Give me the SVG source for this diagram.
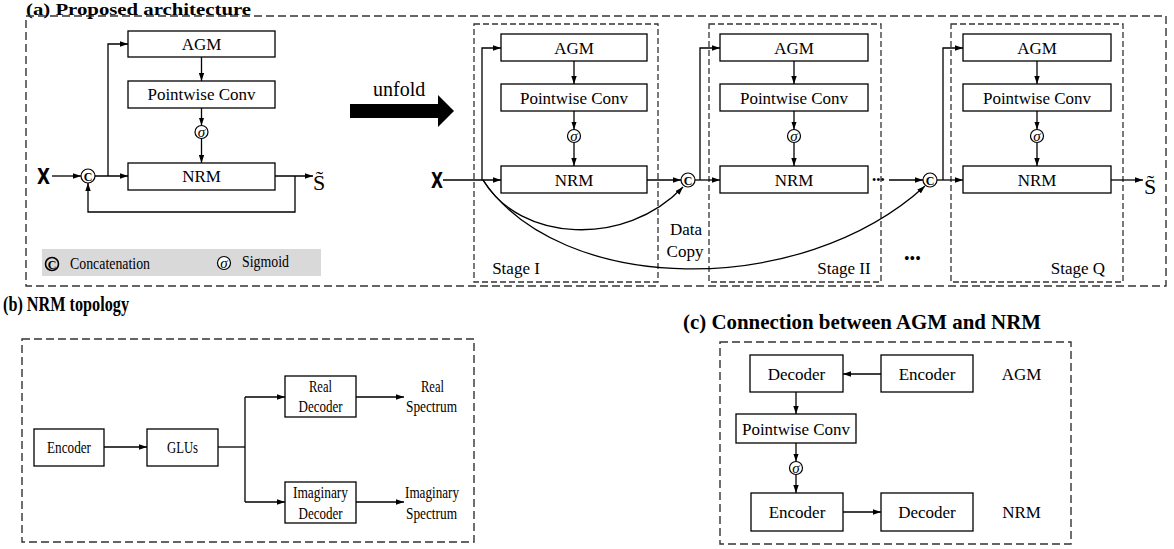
<svg xmlns="http://www.w3.org/2000/svg" width="1174" height="549" viewBox="0 0 1174 549">
<style>
text{font-family:'Liberation Serif','Times New Roman',serif;fill:#000}
.t{font-size:17px;text-anchor:middle}
.tb{font-size:16px;text-anchor:middle}
.title{font-weight:bold;font-size:20px}
.box{fill:#fff;stroke:#000;stroke-width:1.3}
.dash{fill:none;stroke:#333;stroke-width:1.4;stroke-dasharray:8,4}
.dash2{fill:none;stroke:#333;stroke-width:1.3;stroke-dasharray:6,3}
.ln{fill:none;stroke:#000;stroke-width:1.3}
.ar{fill:none;stroke:#000;stroke-width:1.3;marker-end:url(#ah)}
.sym{fill:#fff;stroke:#000;stroke-width:1.2}
.sg{font-size:15px;font-style:italic;text-anchor:middle}
.cc{font-size:12px;font-weight:bold;text-anchor:middle}
.xx{font-family:'DejaVu Sans Condensed','DejaVu Sans',sans-serif;font-weight:bold;font-size:21px}
.ss{font-size:22px}
</style>
<defs>
<marker id="ah" viewBox="0 0 8 6" refX="8" refY="3" markerWidth="8" markerHeight="6" markerUnits="userSpaceOnUse" orient="auto">
<path d="M0,0.3 L8,3 L0,5.7 z" fill="#000"/>
</marker>
</defs>

<!-- Titles -->
<text x="26" y="14.5" style="font-weight:bold;font-size:17.5px" textLength="225" lengthAdjust="spacingAndGlyphs">(a) Proposed architecture</text>
<text class="title" x="3" y="311" textLength="126" lengthAdjust="spacingAndGlyphs">(b) NRM topology</text>
<text class="title" x="683" y="329" textLength="358" lengthAdjust="spacingAndGlyphs">(c) Connection between AGM and NRM</text>

<!-- Panel frames -->
<rect class="dash" x="26" y="16" width="1140" height="270"/>
<rect class="dash" x="22" y="339" width="452" height="203"/>
<rect class="dash" x="720" y="342" width="351" height="202"/>

<!-- Stage containers -->
<g id="stage1"><rect class="dash2" x="474" y="24" width="184" height="258"/><text class="t" x="516" y="274">Stage I</text></g>
<g id="stage2"><rect class="dash2" x="709" y="24" width="172" height="258"/><text class="t" x="844" y="274">Stage II</text></g>
<g id="stageQ"><rect class="dash2" x="951" y="24" width="172" height="258"/><text class="t" x="1078" y="274">Stage Q</text></g>

<!-- Legend -->
<g id="legend">
<rect x="42" y="249" width="279" height="27" fill="#d9d9d9"/>
<circle cx="52" cy="264" r="6.5" fill="none" stroke="#000" stroke-width="1.6"/>
<text class="cc" x="52" y="268.5">C</text>
<text x="70" y="269" font-size="16" textLength="80" lengthAdjust="spacingAndGlyphs">Concatenation</text>
<circle class="sym" cx="224" cy="263" r="6.5" fill="none"/>
<text class="sg" x="224" y="267.5">σ</text>
<text x="242" y="267" font-size="16" textLength="47" lengthAdjust="spacingAndGlyphs">Sigmoid</text>
</g>

<!-- Unfold arrow -->
<g id="unfold">
<text x="373" y="96" font-size="20">unfold</text>
<polygon points="350,104 438,104 438,95 454,111 438,127 438,118 350,118" fill="#000"/>
</g>

<!-- Connectors -->
<g id="connectors">
<line class="ar" x1="52" y1="176" x2="81" y2="176"/>
<line class="ar" x1="95" y1="176" x2="128" y2="176"/>
<polyline class="ar" points="108,176 108,44 128,44"/>
<line class="ar" x1="201.5" y1="57" x2="201.5" y2="81"/>
<line class="ar" x1="201.5" y1="108" x2="201.5" y2="125.5"/>
<line class="ar" x1="201.5" y1="138.5" x2="201.5" y2="163"/>
<line class="ar" x1="275" y1="176" x2="313" y2="176"/>
<polyline class="ar" points="295,176 295,212 88,212 88,183"/>
<line class="ar" x1="443" y1="180" x2="501" y2="180"/>
<polyline class="ar" points="482,180 482,48 501,48"/>
<line class="ar" x1="574" y1="61" x2="574" y2="84"/>
<line class="ar" x1="574" y1="111" x2="574" y2="129.5"/>
<line class="ar" x1="574" y1="142.5" x2="574" y2="166"/>
<line class="ar" x1="647" y1="180" x2="681" y2="180"/>
<path class="ar" d="M483,180 C520,242 625,248 683,187"/>
<path class="ar" d="M483,180 C560,295 800,300 925,186"/>
<line class="ar" x1="695" y1="180" x2="720" y2="180"/>
<polyline class="ar" points="700,180 700,48 720,48"/>
<line class="ar" x1="794" y1="61" x2="794" y2="84"/>
<line class="ar" x1="794" y1="111" x2="794" y2="129.5"/>
<line class="ar" x1="794" y1="142.5" x2="794" y2="166"/>
<line class="ar" x1="889" y1="180" x2="923" y2="180"/>
<line class="ar" x1="937" y1="180" x2="963" y2="180"/>
<polyline class="ar" points="943,180 943,48 963,48"/>
<line class="ar" x1="1037" y1="61" x2="1037" y2="84"/>
<line class="ar" x1="1037" y1="111" x2="1037" y2="129.5"/>
<line class="ar" x1="1037" y1="142.5" x2="1037" y2="166"/>
<line class="ar" x1="1111" y1="180" x2="1143" y2="180"/>
<line class="ar" x1="104" y1="447" x2="147" y2="447"/>
<line class="ln" x1="218" y1="447" x2="245" y2="447" stroke-width="2"/>
<line class="ln" x1="245" y1="397" x2="245" y2="502"/>
<line class="ar" x1="245" y1="397" x2="285" y2="397"/>
<line class="ar" x1="245" y1="502" x2="285" y2="502"/>
<line class="ar" x1="356" y1="397" x2="404" y2="397"/>
<line class="ar" x1="356" y1="502" x2="404" y2="502"/>
<line class="ar" x1="881" y1="374" x2="843" y2="374"/>
<line class="ar" x1="796" y1="392" x2="796" y2="414"/>
<line class="ar" x1="796" y1="443" x2="796" y2="461.5"/>
<line class="ar" x1="796" y1="474.5" x2="796" y2="493"/>
<line class="ar" x1="843" y1="512" x2="881" y2="512"/>
</g>

<!-- Folded nodes -->
<g id="x-in"><text class="xx" x="37" y="184" textLength="13" lengthAdjust="spacingAndGlyphs">X</text></g>
<g id="f-cat"><circle class="sym" cx="88" cy="176" r="7"/><text class="cc" x="88" y="180.5">C</text></g>
<g id="f-agm"><rect class="box" x="128" y="31" width="147" height="26"/><text class="t" x="201.5" y="50">AGM</text></g>
<g id="f-pw"><rect class="box" x="128" y="81" width="147" height="27"/><text class="t" x="201.5" y="100">Pointwise Conv</text></g>
<g id="f-sig"><circle class="sym" cx="201.5" cy="132" r="6.5"/><text class="sg" x="201.5" y="136.5">σ</text></g>
<g id="f-nrm"><rect class="box" x="128" y="163" width="147" height="27"/><text class="t" x="201.5" y="182">NRM</text></g>
<g id="f-out"><text class="ss" x="313" y="190">S̃</text></g>

<!-- Stage I nodes -->
<g id="u-x"><text class="xx" x="431" y="188" textLength="12" lengthAdjust="spacingAndGlyphs">X</text></g>
<g id="s1-agm"><rect class="box" x="501" y="34" width="146" height="27"/><text class="t" x="574" y="53.5">AGM</text></g>
<g id="s1-pw"><rect class="box" x="501" y="84" width="146" height="27"/><text class="t" x="574" y="103.5">Pointwise Conv</text></g>
<g id="s1-sig"><circle class="sym" cx="574" cy="136" r="6.5"/><text class="sg" x="574" y="140.5">σ</text></g>
<g id="s1-nrm"><rect class="box" x="501" y="166" width="146" height="27"/><text class="t" x="574" y="185.5">NRM</text></g>
<g id="s2-cat"><circle class="sym" cx="688" cy="180" r="7"/><text class="cc" x="688" y="184.5">C</text></g>
<g id="datacopy"><text class="t" x="686" y="235">Data</text><text class="t" x="685" y="257">Copy</text></g>

<!-- Stage II nodes -->
<g id="s2-agm"><rect class="box" x="720" y="34" width="148" height="27"/><text class="t" x="794" y="53.5">AGM</text></g>
<g id="s2-pw"><rect class="box" x="720" y="84" width="148" height="27"/><text class="t" x="794" y="103.5">Pointwise Conv</text></g>
<g id="s2-sig"><circle class="sym" cx="794" cy="136" r="6.5"/><text class="sg" x="794" y="140.5">σ</text></g>
<g id="s2-nrm"><rect class="box" x="720" y="166" width="148" height="27"/><text class="t" x="794" y="185.5">NRM</text></g>
<g id="dots"><text x="872" y="184" font-size="12">•••</text><text x="904" y="264" font-size="16">•••</text></g>

<!-- Stage Q nodes -->
<g id="sq-cat"><circle class="sym" cx="930" cy="180" r="7"/><text class="cc" x="930" y="184.5">C</text></g>
<g id="sq-agm"><rect class="box" x="963" y="34" width="148" height="27"/><text class="t" x="1037" y="53.5">AGM</text></g>
<g id="sq-pw"><rect class="box" x="963" y="84" width="148" height="27"/><text class="t" x="1037" y="103.5">Pointwise Conv</text></g>
<g id="sq-sig"><circle class="sym" cx="1037" cy="136" r="6.5"/><text class="sg" x="1037" y="140.5">σ</text></g>
<g id="sq-nrm"><rect class="box" x="963" y="166" width="148" height="27"/><text class="t" x="1037" y="185.5">NRM</text></g>
<g id="u-out"><text class="ss" x="1144" y="194">S̃</text></g>

<!-- Panel b nodes -->
<g id="b-enc"><rect class="box" x="34" y="429" width="70" height="37"/><text class="tb" x="69" y="453" textLength="44" lengthAdjust="spacingAndGlyphs">Encoder</text></g>
<g id="b-glu"><rect class="box" x="147" y="429" width="71" height="37"/><text class="tb" x="182.5" y="453" textLength="31" lengthAdjust="spacingAndGlyphs">GLUs</text></g>
<g id="b-real"><rect class="box" x="285" y="376" width="71" height="41"/><text class="tb" x="320.5" y="391.5" textLength="23" lengthAdjust="spacingAndGlyphs">Real</text><text class="tb" x="320.5" y="412" textLength="44" lengthAdjust="spacingAndGlyphs">Decoder</text></g>
<g id="b-imag"><rect class="box" x="285" y="482" width="71" height="41"/><text class="tb" x="320.5" y="498" textLength="55" lengthAdjust="spacingAndGlyphs">Imaginary</text><text class="tb" x="320.5" y="519" textLength="44" lengthAdjust="spacingAndGlyphs">Decoder</text></g>
<g id="b-rs"><text class="tb" x="432.5" y="391.5" textLength="23" lengthAdjust="spacingAndGlyphs">Real</text><text class="tb" x="431.5" y="412" textLength="51" lengthAdjust="spacingAndGlyphs">Spectrum</text></g>
<g id="b-is"><text class="tb" x="432" y="498" textLength="54" lengthAdjust="spacingAndGlyphs">Imaginary</text><text class="tb" x="431.5" y="519" textLength="51" lengthAdjust="spacingAndGlyphs">Spectrum</text></g>

<!-- Panel c nodes -->
<g id="c-dec1"><rect class="box" x="750" y="355" width="93" height="37"/><text class="t" x="796.5" y="379.5">Decoder</text></g>
<g id="c-enc1"><rect class="box" x="881" y="355" width="92" height="37"/><text class="t" x="927" y="379.5">Encoder</text></g>
<g id="c-agm"><text class="t" x="1021.5" y="379.5">AGM</text></g>
<g id="c-pw"><rect class="box" x="736" y="414" width="120" height="29"/><text class="t" x="796" y="434.5">Pointwise Conv</text></g>
<g id="c-sig"><circle class="sym" cx="796" cy="468" r="6.5"/><text class="sg" x="796" y="472.5">σ</text></g>
<g id="c-enc2"><rect class="box" x="751" y="493" width="92" height="38"/><text class="t" x="797" y="517.5">Encoder</text></g>
<g id="c-dec2"><rect class="box" x="881" y="493" width="92" height="38"/><text class="t" x="927" y="517.5">Decoder</text></g>
<g id="c-nrm"><text class="t" x="1021.5" y="517.5">NRM</text></g>
</svg>
